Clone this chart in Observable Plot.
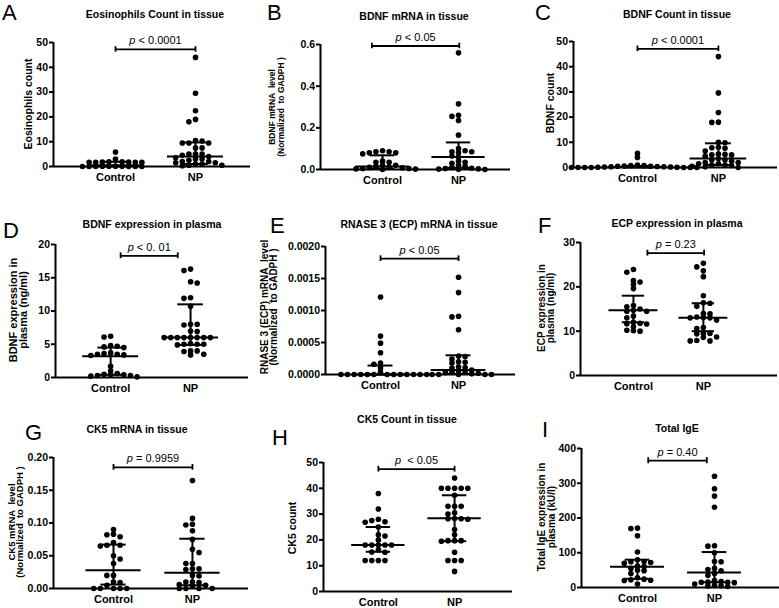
<!DOCTYPE html>
<html>
<head>
<meta charset="utf-8">
<script src="https://cdn.jsdelivr.net/npm/d3@7"></script>
<script src="https://cdn.jsdelivr.net/npm/@observablehq/plot@0.6"></script>
<style>
  html, body { margin: 0; padding: 0; background: #fff; }
  #fig { position: relative; width: 779px; height: 608px; overflow: hidden; background: #fff; }
  #fig svg { position: absolute; font-family: Arial, "Liberation Sans", sans-serif; overflow: visible; }
</style>
</head>
<body>
<div id="fig"></div>
<script>
// Group names on every x axis
const groups = ["Control", "NP"];

// A: eosinophil count in tissue
const eosControl = [5.8, 3, 1.9, 1.9, 1.8, 1.8, 1.7, 1.7, 1.7, 1.7, 0.1, 0.1, 0.1, 0.1, 0, 0, 0, 0, 0, 0];
const eosNP = [44, 29.5, 22.5, 19, 18, 10.5, 10.3, 9.5, 9.5, 9.5, 7.5, 7.5, 5, 5, 5, 4.5, 4, 3.5, 3, 3, 2.5, 2, 2, 1.5, 1.5, 1, 1, 0.5, 0.5, 0.3];
const eosStats = [[0.5, 0.1, 1.9], [4, 1, 9.7]]; // median, q1, q3

// B: BDNF mRNA in tissue
const bdnfMrnaControl = [0.09, 0.085, 0.085, 0.08, 0.08, 0.075, 0.04, 0.035, 0.035, 0.02, 0.02, 0.015, 0.012, 0.01, 0.008, 0.005, 0.005, 0.003, 0.002, 0.0];
const bdnfMrnaNP = [0.56, 0.315, 0.26, 0.255, 0.235, 0.165, 0.1, 0.09, 0.085, 0.085, 0.08, 0.065, 0.06, 0.04, 0.035, 0.03, 0.02, 0.015, 0.01, 0.006, 0.005, 0.003, 0.002, 0.001, 0.0];
const bdnfMrnaStats = [[0.015, 0.004, 0.068], [0.06, 0.008, 0.13]];

// C: BDNF count in tissue
const bdnfCountControl = [5.6, 4, 1, 0.8, 0.8, 0.6, 0.5, 0.5, 0.4, 0.3, 0.3, 0.2, 0.2, 0.1, 0.1, 0, 0, 0, 0, 0, 0, 0];
const bdnfCountNP = [44, 29.6, 21.8, 18, 17.9, 10, 9.8, 8, 7.8, 7.6, 6.5, 5.3, 5.2, 5, 5, 4.5, 3.5, 3, 3, 2.5, 2, 2, 1.5, 1.5, 1, 1, 0.8, 0.5, 0.3, 0];
const bdnfCountStats = [[0.2, 0, 0.6], [3.6, 1, 9.6]];

// D: BDNF in plasma (ng/ml)
const bdnfPlasmaControl = [6.2, 6.1, 4.8, 4.7, 4.6, 4.5, 3.7, 3.6, 3.5, 3.5, 3.4, 3.3, 1.7, 1.0, 0.6, 0.5, 0.4, 0.4, 0.3, 0.3, 0.2, 0.1];
const bdnfPlasmaNP = [16.3, 16.1, 14.4, 14.2, 12, 11.9, 10.7, 8, 8, 7.9, 7, 6.9, 6, 6, 6, 6, 6, 6, 6, 6, 5.1, 5, 5, 5, 4.9, 4, 4, 3.9, 3.5, 3.4];
const bdnfPlasmaStats = [[3.2, 0.4, 4.5], [6, 4.9, 11]];

// E: RNASE 3 (ECP) mRNA in tissue
const ecpMrnaControl = [0.00121, 0.0006, 0.00049, 0.00034, 0.00018, 0.00016, 0.0001, 0.00004, 0, 0, 0, 0, 0, 0, 0, 0, 0, 0, 0, 0, 0];
const ecpMrnaNP = [0.00152, 0.00128, 0.00091, 0.0009, 0.0007, 0.00029, 0.00028, 0.00024, 0.0002, 0.00019, 0.00018, 0.00012, 0.00011, 0.0001, 0.00007, 0.00006, 0.00005, 0.00004, 0.00003, 0.00002, 0.00001, 0, 0, 0, 0, 0];
const ecpMrnaStats = [[0, 0, 0.00014], [0.00007, 0.00001, 0.0003]];

// F: ECP in plasma (ng/ml)
const ecpPlasmaControl = [23.9, 23.3, 21.4, 21.1, 20.5, 19.6, 15.8, 15.5, 15, 14.7, 14.5, 14.5, 13.4, 13, 12, 11.8, 11.7, 11.6, 11, 10.2, 10.1, 10];
const ecpPlasmaNP = [25.3, 24.5, 23.6, 22.3, 18, 16.4, 16.3, 15.6, 14, 13.9, 13.2, 13.1, 13, 13, 12.5, 10.8, 10.6, 9.5, 9.5, 9.4, 8.7, 8.6, 7.9, 7.8, 7.8];
const ecpPlasmaStats = [[14.7, 12, 18], [13, 10, 16.3]];

// G: CK5 mRNA in tissue
const ck5MrnaControl = [0.09, 0.083, 0.082, 0.079, 0.07, 0.066, 0.066, 0.065, 0.05, 0.045, 0.038, 0.02, 0.02, 0.01, 0.009, 0.005, 0, 0, 0, 0, 0];
const ck5MrnaNP = [0.165, 0.107, 0.098, 0.097, 0.088, 0.075, 0.06, 0.055, 0.038, 0.038, 0.03, 0.03, 0.029, 0.02, 0.019, 0.01, 0.01, 0.009, 0.006, 0.005, 0.004, 0, 0, 0, 0];
const ck5MrnaStats = [[0.028, 0.006, 0.067], [0.024, 0.005, 0.076]];

// H: CK5 count in tissue
const ck5CountControl = [38, 32, 28, 27.5, 27, 26.8, 25, 22, 21.5, 20, 18, 18, 18, 18, 18, 16.2, 15.3, 15.2, 12, 12, 12, 12];
const ck5CountNP = [44, 40, 40, 40, 40, 40, 37.3, 33, 33, 33, 30.5, 30, 28.3, 28.2, 28.2, 28, 24, 22, 19.7, 19.7, 19.7, 19.5, 15.2, 12, 12, 12, 7.8];
const ck5CountStats = [[18, 15.4, 25], [28.4, 19.5, 37.3]];

// I: total IgE in plasma (kU/l)
const igeControl = [171, 170, 149, 102, 80, 75, 74, 72, 70, 62, 60, 55, 50, 48, 40, 28, 24, 22, 21, 20, 10];
const igeNP = [320, 284, 263, 231, 120, 119, 100, 75, 74, 55, 52, 48, 40, 35, 20, 17, 16, 15, 15, 14, 10, 6, 5, 4, 3];
const igeStats = [[60, 25, 80], [43, 15, 102]];

// Panel titles, axis labels and p values
const letters = ["A", "B", "C", "D", "E", "F", "G", "H", "I"];
const titles = ["Eosinophils Count in tissue", "BDNF mRNA in tissue", "BDNF Count in tissue",
  "BDNF expression in plasma", "RNASE 3 (ECP) mRNA in tissue", "ECP expression in plasma",
  "CK5 mRNA in tissue", "CK5 Count in tissue", "Total IgE"];
const yLabels = [["Eosinophils count"], ["BDNF mRNA  level", "(Normalized  to GADPH )"], ["BDNF count"],
  ["BDNF expression in", "plasma (ng/ml)"], ["RNASE 3 (ECP) mRNA  level", "(Normalized  to GADPH )"], ["ECP expression in", "plasma (ng/ml)"],
  ["CK5 mRNA  level", "(Normalized  to GADPH )"], ["CK5 count"], ["Total IgE expression in", "plasma (kU/l)"]];
const pTexts = ["p < 0.0001", "p < 0.05", "p < 0.0001", "p < 0. 01", "p < 0.05", "p = 0.23", "p = 0.9959", "p  < 0.05", "p = 0.40"];
const yTicks = [[0, 10, 20, 30, 40, 50], [0, 0.2, 0.4, 0.6], [0, 10, 20, 30, 40, 50],
  [0, 5, 10, 15, 20], [0, 0.0005, 0.001, 0.0015, 0.002], [0, 10, 20, 30],
  [0, 0.05, 0.1, 0.15, 0.2], [0, 10, 20, 30, 40, 50], [0, 100, 200, 300, 400]];
const yFormats = ["d", ".1f", "d", "d", ".4f", "d", ".2f", "d", "d"];

const series = [
  [eosControl, eosNP, eosStats], [bdnfMrnaControl, bdnfMrnaNP, bdnfMrnaStats], [bdnfCountControl, bdnfCountNP, bdnfCountStats],
  [bdnfPlasmaControl, bdnfPlasmaNP, bdnfPlasmaStats], [ecpMrnaControl, ecpMrnaNP, ecpMrnaStats], [ecpPlasmaControl, ecpPlasmaNP, ecpPlasmaStats],
  [ck5MrnaControl, ck5MrnaNP, ck5MrnaStats], [ck5CountControl, ck5CountNP, ck5CountStats], [igeControl, igeNP, igeStats]
];

// Layout of each panel: svg box, margins, x extent, bracket span, text placement
const layout = [
  {box: [0, 0, 255, 200], m: [42, 5, 34, 53], xdom: [-0.775, 1.6875], br: [0, 1, 0.944], letter: [2, 20], title: [155, 18], lab: [28], labY: 104, labSize: 10.5},
  {box: [255, 0, 260, 200], m: [44, 5, 31, 65], xdom: [-0.816, 1.684], br: [-0.14, 1.01, 0.988], letter: [267, 20], title: [414, 20], lab: [272, 281], labY: 107, labSize: 8.5},
  {box: [515, 0, 264, 200], m: [41, 2, 33, 58], xdom: [-0.79, 1.73], br: [0, 1, 0.942], letter: [535, 20], title: [677, 18], lab: [550], labY: 103, labSize: 10.5},
  {box: [0, 200, 255, 205], m: [44, 7, 28, 55], xdom: [-0.69, 1.725], br: [0.125, 0.84, 0.915], letter: [3, 238], title: [152, 228], lab: [13, 22.5], labY: 310, labSize: 11},
  {box: [255, 200, 260, 205], m: [46, 0, 31, 70], xdom: [-0.705, 1.73], br: [0, 1, 0.905], letter: [270, 233], title: [419, 228], lab: [264, 273], labY: 307, labSize: 10},
  {box: [515, 200, 264, 205], m: [42, 2, 30, 65], xdom: [-0.757, 2.06], br: [0.2, 1.01, 0.92], letter: [538, 233], title: [677, 227], lab: [541, 550], labY: 308, labSize: 10},
  {box: [0, 405, 255, 203], m: [52, 7, 20, 53], xdom: [-0.76, 1.71], br: [0, 1, 0.925], letter: [25, 440], title: [137, 433], lab: [11, 19], labY: 522, labSize: 9.5},
  {box: [255, 405, 260, 203], m: [57, 3, 17, 68], xdom: [-0.72, 1.76], br: [0, 1, 0.948], letter: [272, 445], title: [407, 423], lab: [292], labY: 528, labSize: 10.5},
  {box: [515, 405, 264, 203], m: [43, 0, 21, 66], xdom: [-0.727, 1.844], br: [0.14, 0.9, 0.9125], letter: [542, 437], title: [677, 432], lab: [541, 551], labY: 517, labSize: 10}
];

const R = 2.8;    // dot radius
const DX = 6.6;   // horizontal spacing of dots sharing a row
const DY = 3.8;   // vertical distance under which two dots compete for a slot

// Spread the dots of one group sideways in rows (pixel space)
function swarm(values, yPix, pxPerUnit) {
  const pts = values.map(v => ({v, py: yPix(v)})).sort((a, b) => a.py - b.py);
  const placed = [];
  let lastSign = 1;
  for (const p of pts) {
    const near = placed.filter(q => Math.abs(q.py - p.py) < DY);
    const cands = [0];
    for (const q of near) cands.push(q.px - DX, q.px + DX);
    const ok = c => near.every(q => Math.abs(q.px - c) >= DX - 1e-6);
    let best = null;
    for (const c of cands) {
      if (!ok(c)) continue;
      if (best === null || Math.abs(c) < Math.abs(best) - 1e-9 ||
          (Math.abs(Math.abs(c) - Math.abs(best)) < 1e-9 && Math.sign(c) === -lastSign)) best = c;
    }
    p.px = best;
    if (best !== 0) lastSign = Math.sign(best);
    placed.push(p);
  }
  return pts.map(p => ({value: p.v, off: p.px / pxPerUnit}));
}

const fig = document.getElementById("fig");

layout.forEach((L, i) => {
  const [left, top, w, h] = L.box;
  const [mt, mr, mb, ml] = L.m;
  const [ctrl, np, stats] = series[i];
  const ticks = yTicks[i];
  const ymax = ticks[ticks.length - 1];
  const yPix = d3.scaleLinear([0, ymax], [h - mb, mt]);
  const pxPerUnit = (w - ml - mr) / (L.xdom[1] - L.xdom[0]);

  const dots = [];
  [ctrl, np].forEach((vals, g) => {
    swarm(vals, yPix, pxPerUnit).forEach(d => dots.push({group: groups[g], x: g + d.off, y: d.value}));
  });
  const summary = stats.map(([med, q1, q3], g) => ({g, med, q1, q3}));
  const bracket = {from: L.br[0], to: L.br[1], y: L.br[2] * ymax, text: pTexts[i]};
  const cap = 0.022 * ymax;

  const svg = Plot.plot({
    width: w, height: h,
    marginTop: mt, marginRight: mr, marginBottom: mb, marginLeft: ml,
    x: {type: "linear", domain: L.xdom},
    y: {type: "linear", domain: [0, ymax]},
    style: {fontFamily: 'Arial, "Liberation Sans", sans-serif', color: "#000", background: "transparent"},
    marks: [
      Plot.axisY({ticks, tickFormat: d3.format(yFormats[i]), tickSize: 4, tickPadding: 1.5,
        fontSize: 10.5, fontWeight: "bold", strokeWidth: 2, label: null}),
      Plot.axisX({ticks: [0, 1], tickFormat: k => groups[k], tickSize: 0, tickPadding: 7,
        fontSize: 11, fontWeight: "bold", label: null}),
      Plot.dot(dots, {x: "x", y: "y", r: R, fill: "#000", stroke: "none"}),
      // median
      Plot.ruleY(summary, {y: "med", x1: d => d.g - 0.35, x2: d => d.g + 0.35, strokeWidth: 2}),
      // interquartile range
      Plot.ruleY(summary, {y: "q1", x1: d => d.g - 0.16, x2: d => d.g + 0.16, strokeWidth: 2}),
      Plot.ruleY(summary, {y: "q3", x1: d => d.g - 0.16, x2: d => d.g + 0.16, strokeWidth: 2}),
      Plot.ruleX(summary, {x: "g", y1: "q1", y2: "q3", strokeWidth: 2}),
      // axis lines
      Plot.ruleX([L.xdom[0]], {y1: 0, y2: ymax, strokeWidth: 2}),
      Plot.ruleY([0], {x1: L.xdom[0], x2: L.xdom[1], strokeWidth: 2}),
      // significance bracket
      Plot.ruleY([bracket], {y: "y", x1: "from", x2: "to", strokeWidth: 1.8}),
      Plot.ruleX([bracket.from, bracket.to], {x: d => d, y1: bracket.y - cap, y2: bracket.y + cap, strokeWidth: 1.8}),
      Plot.text([bracket], {x: d => (d.from + d.to) / 2, y: "y", text: "text", dy: -5, lineAnchor: "bottom",
        fontSize: 11, fill: "#000"})
    ]
  });

  svg.style.left = left + "px";
  svg.style.top = top + "px";
  const s = d3.select(svg);

  // italic p in the p value
  s.selectAll("text").filter(function () { return this.textContent === bracket.text; }).each(function () {
    const rest = bracket.text.slice(1);
    const t = d3.select(this);
    t.text(null);
    t.append("tspan").attr("font-style", "italic").text("p");
    t.append("tspan").text(rest.replace(/ /g, "\u00a0"));
  });

  // panel letter
  s.append("text").attr("x", L.letter[0] - left).attr("y", L.letter[1] - top)
    .attr("text-anchor", "start").attr("font-size", 22).attr("fill", "#000").text(letters[i]);
  // panel title
  s.append("text").attr("x", L.title[0] - left).attr("y", L.title[1] - top)
    .attr("text-anchor", "middle").attr("font-size", 10.5).attr("font-weight", "bold").attr("fill", "#000")
    .text(titles[i]);
  // y axis title (one or two lines)
  yLabels[i].forEach((line, k) => {
    const cx = L.lab[k] - left, cy = L.labY - top;
    s.append("text").attr("transform", `translate(${cx},${cy}) rotate(-90)`)
      .attr("text-anchor", "middle").attr("dominant-baseline", "central")
      .attr("font-size", L.labSize).attr("font-weight", "bold").attr("fill", "#000")
      .text(line.replace(/ /g, "\u00a0"));
  });

  fig.appendChild(svg);
});
</script>
</body>
</html>
